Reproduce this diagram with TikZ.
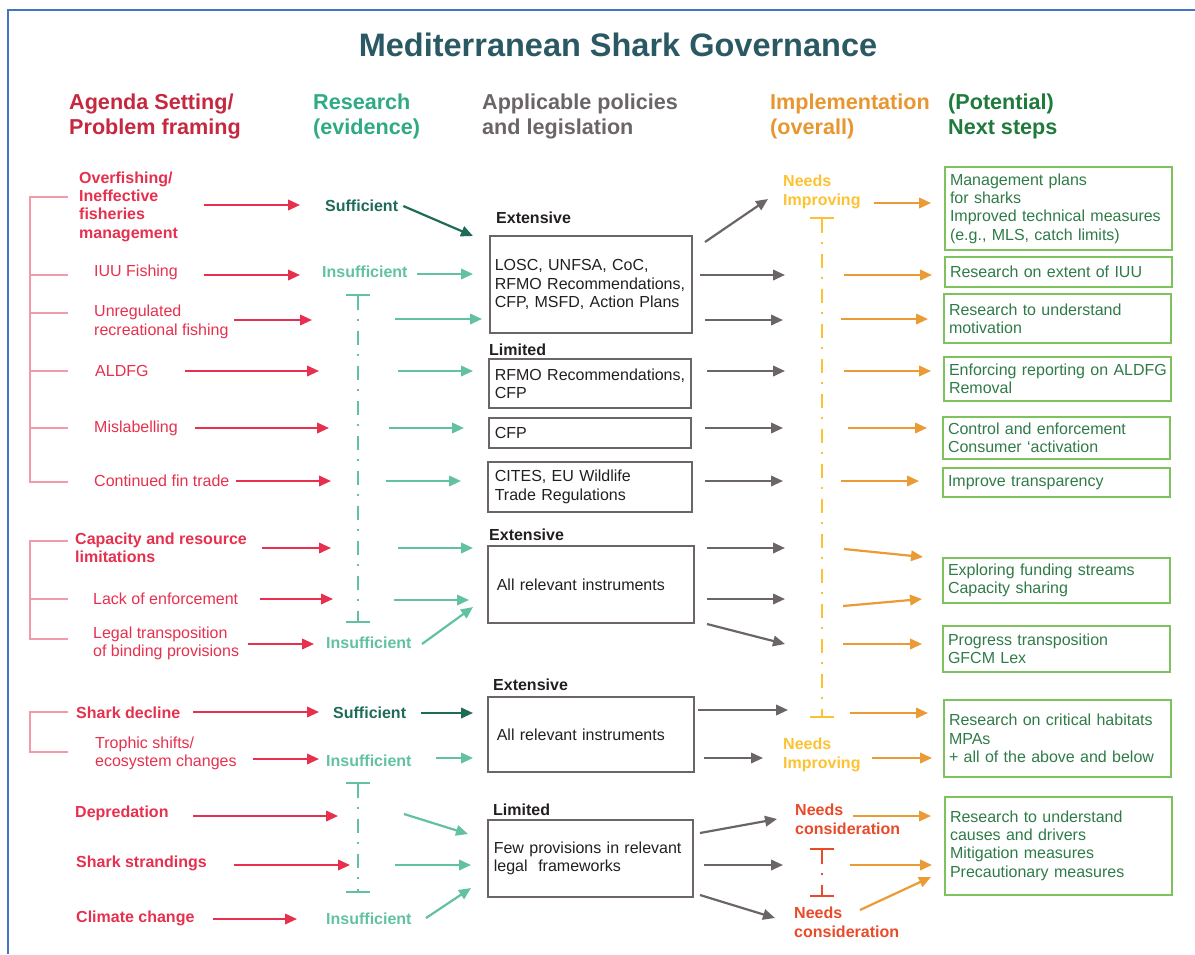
\documentclass[tikz,border=0pt]{standalone}
\usepackage{fontspec}
\setmainfont{Liberation Sans}
\usetikzlibrary{arrows.meta}

\definecolor{frameblue}{HTML}{4472C4}
\definecolor{titleteal}{HTML}{2A5963}
\definecolor{agred}{HTML}{C5283F}
\definecolor{probred}{HTML}{E6304D}
\definecolor{bracketpink}{HTML}{F29AA8}
\definecolor{reshdr}{HTML}{2EAA84}
\definecolor{suffgreen}{HTML}{1E6B58}
\definecolor{insteal}{HTML}{62C2A0}
\definecolor{polgray}{HTML}{6C6568}
\definecolor{polblack}{HTML}{231F20}
\definecolor{imphdr}{HTML}{E8962F}
\definecolor{improvy}{HTML}{FDC231}
\definecolor{considr}{HTML}{E84A2A}
\definecolor{orangearr}{HTML}{EA9B35}
\definecolor{nshdr}{HTML}{1F7A3C}
\definecolor{nsgreen}{HTML}{7DC25C}
\definecolor{nstext}{HTML}{2F7B47}

\begin{document}
\begin{tikzpicture}[
  x=1pt, y=-1pt,
  body/.style={font=\fontsize{16}{18.3}\selectfont},
  hdr/.style={anchor=west, inner sep=0pt, align=left, font=\fontsize{21.6}{25}\selectfont\bfseries},
  prob/.style={anchor=west, inner sep=0pt, align=left, text=probred, body},
  probb/.style={prob, font=\fontsize{16}{18.3}\selectfont\bfseries},
  suff/.style={anchor=west, inner sep=0pt, text=suffgreen, font=\fontsize{16}{18.3}\selectfont\bfseries},
  insuff/.style={suff, text=insteal},
  lvl/.style={anchor=west, inner sep=0pt, text=polblack, font=\fontsize{16}{18.3}\selectfont\bfseries},
  polbox/.style={anchor=west, draw=polgray, line width=1.6pt, inner ysep=0pt, align=left, text=polblack, body},
  nsbox/.style={anchor=west, draw=nsgreen, line width=2pt, inner xsep=5pt, inner ysep=0pt, text width=217pt, align=left, text=nstext, body},
  improv/.style={anchor=west, inner sep=0pt, align=left, text=improvy, font=\fontsize{16}{19}\selectfont\bfseries},
  consid/.style={improv, text=considr, font=\fontsize{16}{18.5}\selectfont\bfseries},
  arr/.style={line width=2.2pt, -{Triangle[length=12pt,width=10.5pt]}},
  probarr/.style={arr, draw=probred},
  evarr/.style={arr, draw=insteal},
  sufarr/.style={arr, draw=suffgreen},
  polarr/.style={arr, draw=polgray},
  imparr/.style={arr, draw=orangearr},
  bracket/.style={draw=bracketpink, line width=1.2pt},
  tbar/.style={line width=2.2pt, dash pattern=on 14pt off 9pt on 2.5pt off 9.5pt, {Bar[width=24pt]}-{Bar[width=24pt]}}
]
  \useasboundingbox (0,0) rectangle (1195,954);
  \draw[frameblue, line width=2.5pt] (8,954) -- (8,10) -- (1195,10);

  % title and column heads
  \node[inner sep=0pt, text=titleteal, font=\fontsize{32.5}{36}\selectfont\bfseries] (title) at (618,45) {Mediterranean Shark Governance};
  \node[hdr, text=agred] (hagenda) at (69,116.5) {Agenda Setting/\\Problem framing};
  \node[hdr, text=reshdr] (hresearch) at (313,116.5) {Research\\(evidence)};
  \node[hdr, text=polgray] (hpolicy) at (482,116.5) {Applicable policies\\and legislation};
  \node[hdr, text=imphdr] (himpl) at (770,116.5) {Implementation\\(overall)};
  \node[hdr, text=nshdr] (hnext) at (948,116.5) {(Potential)\\Next steps};

  % agenda setting / problem framing
  \node[probb] (overfish) at (79,206.5) {Overfishing/\\Ineffective\\fisheries\\management};
  \node[prob] (iuu) at (94,272) {IUU Fishing};
  \node[prob] (recfish) at (94,322) {Unregulated\\recreational fishing};
  \node[prob] (aldfg) at (95,371) {ALDFG};
  \node[prob] (mislab) at (94,428) {Mislabelling};
  \node[prob] (fintrade) at (94,481) {Continued fin trade};
  \node[probb] (capacity) at (75,548) {Capacity and resource\\limitations};
  \node[prob] (enforce) at (93,599) {Lack of enforcement};
  \node[prob] (transpos) at (93,643.5) {Legal transposition\\of binding provisions};
  \node[probb] (decline) at (76,713) {Shark decline};
  \node[prob] (trophic) at (95,753.5) {Trophic shifts/\\ecosystem changes};
  \node[probb] (depred) at (75,813) {Depredation};
  \node[probb] (strand) at (76,863) {Shark strandings};
  \node[probb] (climate) at (76,918) {Climate change};

  % brackets
  \draw[bracket] (68,197) -| (30,482) -- (68,482);
  \foreach \y in {275,313,371,428}
    \draw[bracket] (30,\y) -- (68,\y);
  \draw[bracket] (68,541) -| (30,639) -- (68,639);
  \draw[bracket] (30,599) -- (68,599);
  \draw[bracket] (68,712) -| (30,752) -- (68,752);

  % research (evidence)
  \node[suff] (suf1) at (325,206) {Sufficient};
  \node[insuff] (ins1) at (322,272) {Insufficient};
  \node[insuff] (ins2) at (326,643) {Insufficient};
  \node[suff] (suf2) at (333,713) {Sufficient};
  \node[insuff] (ins3) at (326,761) {Insufficient};
  \node[insuff] (ins4) at (326,919) {Insufficient};
  \draw[tbar, insteal] (358,294) coordinate (ev1top) -- (358,623) coordinate (ev1bot);
  \draw[tbar, insteal] (358,782) coordinate (ev2top) -- (358,893) coordinate (ev2bot);

  % applicable policies and legislation
  \node[lvl] (ext1) at (496,218) {Extensive};
  \node[polbox, inner xsep=5pt, text width=192pt, minimum height=97pt] (pol1) at (489,284.5) {LOSC, UNFSA, CoC,\\\mbox{RFMO Recommendations,}\\\mbox{CFP, MSFD, Action Plans}};
  \node[lvl] (lim1) at (489,350) {Limited};
  \node[polbox, inner xsep=6pt, text width=190pt, minimum height=49pt] (pol2) at (488,383.5) {\mbox{RFMO Recommendations,}\\CFP};
  \node[polbox, inner xsep=6pt, text width=190pt, minimum height=30pt] (pol3) at (488,433) {CFP};
  \node[polbox, inner xsep=7pt, text width=190pt, minimum height=50pt] (pol4) at (487,487) {CITES, EU Wildlife\\Trade Regulations};
  \node[lvl] (ext2) at (489,535) {Extensive};
  \node[polbox, inner xsep=9pt, text width=188pt, minimum height=77pt] (pol5) at (487,584.5) {All relevant instruments};
  \node[lvl] (ext3) at (493,685) {Extensive};
  \node[polbox, inner xsep=9pt, text width=188pt, minimum height=75pt] (pol6) at (487,734.5) {All relevant instruments};
  \node[lvl] (lim2) at (493,810) {Limited};
  \node[polbox, inner xsep=6pt, text width=193pt, minimum height=77pt] (pol7) at (487,858.5) {\mbox{Few provisions in relevant}\\legal\ \ frameworks};

  % implementation (overall)
  \node[improv] (imp1) at (783,192) {Needs\\Improving};
  \node[improv] (imp2) at (783,754.5) {Needs\\Improving};
  \node[consid] (con1) at (795,819.5) {Needs\\consideration};
  \node[consid] (con2) at (794,922.5) {Needs\\consideration};
  \draw[tbar, improvy] (822,217) coordinate (imtop) -- (822,718) coordinate (imbot);
  \draw[tbar, considr] (822,848) coordinate (cotop) -- (822,897) coordinate (cobot);

  % (potential) next steps
  \node[nsbox, minimum height=83pt] (ns1) at (944,208.5) {Management plans\\for sharks\\\mbox{Improved technical measures}\\(e.g., MLS, catch limits)};
  \node[nsbox, minimum height=30pt] (ns2) at (944,272) {\mbox{Research on extent of IUU}};
  \node[nsbox, minimum height=49pt] (ns3) at (943,318.5) {Research to understand\\motivation};
  \node[nsbox, minimum height=44pt] (ns4) at (943,378.5) {\mbox{Enforcing reporting on ALDFG}\\Removal};
  \node[nsbox, minimum height=42pt] (ns5) at (942,437.5) {Control and enforcement\\Consumer ‘activation};
  \node[nsbox, minimum height=29pt] (ns6) at (942,482.5) {Improve transparency};
  \node[nsbox, minimum height=45pt] (ns7) at (942,580.5) {\mbox{Exploring funding streams}\\Capacity sharing};
  \node[nsbox, minimum height=46pt] (ns8) at (942,649) {Progress transposition\\GFCM Lex};
  \node[nsbox, minimum height=77pt] (ns9) at (943,738.5) {\mbox{Research on critical habitats}\\MPAs\\\mbox{+ all of the above and below}};
  \node[nsbox, minimum height=98pt] (ns10) at (944,845.5) {Research to understand\\causes and drivers\\Mitigation measures\\Precautionary measures};

  % problem -> evidence
  \foreach \xa/\xb/\y [count=\i] in {204/300/205, 204/300/275, 234/312/320, 185/319/371, 195/329/428, 236/331/481, 262/331/548, 260/333/599, 248/314/644, 193/319/712, 253/319/759, 193/338/816, 234/350/865, 213/297/919}
    \draw[probarr] (\xa,\y) coordinate (pa\i) -- (\xb,\y) coordinate (pb\i);

  % evidence -> policies
  \draw[sufarr] ([xshift=5pt]suf1.east) -- (473,236) coordinate (sb1);
  \draw[sufarr] ([xshift=15pt]suf2.east) -- (473,713) coordinate (sb2);
  \foreach \xa/\ya/\xb/\yb [count=\i] in {417/274/473/274, 395/319/482/319, 398/371/473/371, 389/428/464/428, 386/481/461/481, 398/548/473/548, 394/600/469/600, 422/644/473/607, 436/758/473/758, 404/814/468/834, 395/865/471/865, 426/918/471/888}
    \draw[evarr] (\xa,\ya) coordinate (ea\i) -- (\xb,\yb) coordinate (eb\i);

  % policies -> implementation
  \foreach \xa/\ya/\xb/\yb [count=\i] in {705/242/768/199, 700/275/785/275, 705/320/783/320, 707/371/785/371, 705/428/783/428, 705/481/783/481, 707/548/785/548, 707/599/785/599, 707/624/785/644, 698/710/788/710, 704/758/763/758, 700/833/777/819, 704/865/783/865, 700/895/775/918}
    \draw[polarr] (\xa,\ya) coordinate (la\i) -- (\xb,\yb) coordinate (lb\i);

  % implementation -> next steps
  \foreach \xa/\ya/\xb/\yb [count=\i] in {874/203/931/203, 844/275/932/275, 841/319/928/319, 844/371/931/371, 848/428/927/428, 841/481/919/481, 844/549/923/557, 843/606/922/599, 843/644/922/644, 850/713/928/713, 872/758/932/758, 853/816/931/816, 850/865/932/865, 860/910/931/877}
    \draw[imparr] (\xa,\ya) coordinate (ia\i) -- (\xb,\yb) coordinate (ib\i);
\end{tikzpicture}
\end{document}
